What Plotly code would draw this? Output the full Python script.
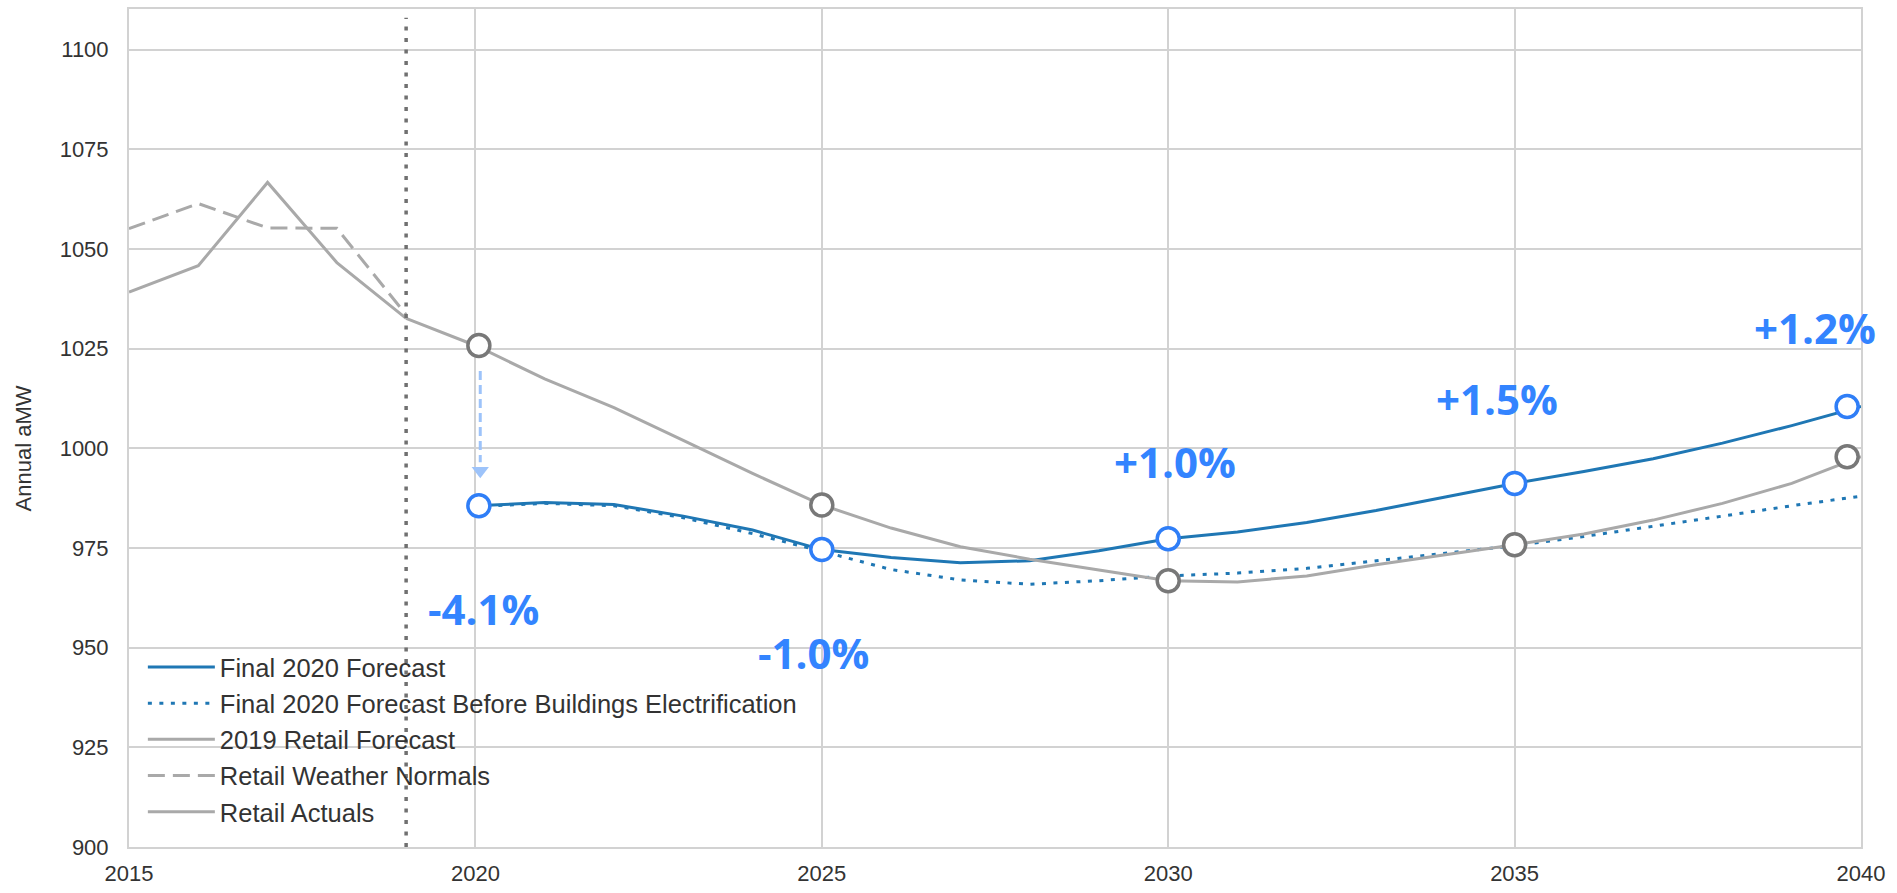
import plotly.graph_objects as go

# ---------------- data ----------------
actual_years = [2015, 2016, 2017, 2018, 2019]
retail_actuals = [1039.2, 1045.8, 1066.7, 1046.6, 1032.6]
weather_normals = [1055.1, 1061.4, 1055.3, 1055.2, 1033.5]

forecast2019_years = list(range(2019, 2041))
retail_forecast_2019 = [1032.6, 1025.8, 1017.4, 1010.2, 1002.0, 993.7, 985.8,
                        980.0, 975.3, 972.2, 969.5, 966.8, 966.5, 968.0, 970.8,
                        973.3, 975.8, 978.5, 982.0, 986.2, 991.2, 997.9]

forecast2020_years = list(range(2020, 2041))
final_2020 = [985.6, 986.4, 985.9, 983.0, 979.5, 974.6, 972.6, 971.3, 971.8,
              974.3, 977.3, 979.0, 981.4, 984.4, 987.8, 991.2, 994.2, 997.4,
              1001.3, 1005.7, 1010.5]
final_2020_before_elec = [985.4, 986.2, 985.6, 982.6, 978.6, 974.2, 969.6,
                          967.0, 965.9, 966.8, 968.0, 968.7, 969.9, 971.8,
                          973.6, 975.6, 977.9, 980.4, 983.0, 985.6, 988.0]

highlight_years = [2020, 2025, 2030, 2035, 2040]
highlight_marker_x = [2020.05, 2025, 2030, 2035, 2039.8]
change_labels = ["-4.1%", "-1.0%", "+1.0%", "+1.5%", "+1.2%"]
label_x = [2020.12, 2024.88, 2030.1, 2034.75, 2039.33]
label_y = [959.9, 948.7, 996.7, 1012.6, 1030.3]

history_end_year = 2019
arrow_x = 2020.07
arrow_from = 1019.4
arrow_to = 996.5
arrow_head = 994.4

y_ticks = [900, 925, 950, 975, 1000, 1025, 1050, 1075, 1100]
x_ticks = [2015, 2020, 2025, 2030, 2035, 2040]

# ---------------- styles ----------------
BLUE_LINE = "#1f77b4"
GRAY_LINE = "#a9a9a9"
MARK_BLUE = "#2f7ef7"
MARK_GRAY = "#787878"
TEXT_BLUE = "#3384ff"
GRID = "#d2d2d2"
FONT = "Arial, Liberation Sans, sans-serif"

fig = go.Figure()

fig.add_trace(go.Scatter(x=forecast2020_years, y=final_2020, mode="lines",
                         name="Final 2020 Forecast",
                         line=dict(color=BLUE_LINE, width=3)))
fig.add_trace(go.Scatter(x=forecast2020_years, y=final_2020_before_elec, mode="lines",
                         name="Final 2020 Forecast Before Buildings Electrification",
                         line=dict(color=BLUE_LINE, width=3, dash="4px,7.5px")))
fig.add_trace(go.Scatter(x=forecast2019_years, y=retail_forecast_2019, mode="lines",
                         name="2019 Retail Forecast",
                         line=dict(color=GRAY_LINE, width=3)))
fig.add_trace(go.Scatter(x=actual_years, y=weather_normals, mode="lines",
                         name="Retail Weather Normals",
                         line=dict(color=GRAY_LINE, width=3, dash="17px,8px")))
fig.add_trace(go.Scatter(x=actual_years, y=retail_actuals, mode="lines",
                         name="Retail Actuals",
                         line=dict(color=GRAY_LINE, width=3)))

# arrow (dashed shaft + head)
fig.add_trace(go.Scatter(x=[arrow_x, arrow_x], y=[arrow_from, arrow_to], mode="lines",
                         line=dict(color="#9dc3fa", width=3, dash="9px,5px"),
                         showlegend=False, hoverinfo="skip"))
fig.add_trace(go.Scatter(x=[arrow_x], y=[arrow_head], mode="markers",
                         marker=dict(symbol="triangle-down", size=15, color="#9dc3fa"),
                         showlegend=False, hoverinfo="skip"))

# highlight circles
gray_vals = [retail_forecast_2019[forecast2019_years.index(y)] for y in highlight_years]
blue_vals = [final_2020[forecast2020_years.index(y)] for y in highlight_years]
fig.add_trace(go.Scatter(x=highlight_marker_x, y=gray_vals, mode="markers",
                         marker=dict(size=22, color="white",
                                     line=dict(color=MARK_GRAY, width=3.5)),
                         showlegend=False, cliponaxis=False))
fig.add_trace(go.Scatter(x=highlight_marker_x, y=blue_vals, mode="markers",
                         marker=dict(size=22, color="white",
                                     line=dict(color=MARK_BLUE, width=3.5)),
                         showlegend=False, cliponaxis=False))

# vertical dotted line at end of history
fig.add_shape(type="line", x0=history_end_year, x1=history_end_year, y0=900, y1=1108,
              xref="x", yref="y", layer="above",
              line=dict(color="#707070", width=3.5, dash="4px,7.5px"))

for t, x, y in zip(change_labels, label_x, label_y):
    fig.add_annotation(x=x, y=y, text=t, showarrow=False, xref="x", yref="y",
                       font=dict(family="Open Sans, Arial, sans-serif", size=42,
                                 color=TEXT_BLUE, weight="bold"))

# y axis title (placed like the reference)
fig.add_annotation(text="Annual aMW", xref="paper", yref="paper",
                   x=-0.061, y=0.476, textangle=-90, showarrow=False,
                   xanchor="center", yanchor="middle",
                   font=dict(family=FONT, size=22, color="#333333"))

axis_common = dict(showgrid=True, gridcolor=GRID, gridwidth=1.8,
                   showline=True, linecolor=GRID, linewidth=2, mirror=True,
                   zeroline=False, ticks="outside", tickcolor="rgba(0,0,0,0)",
                   tickfont=dict(family=FONT, size=22, color="#333333"))

fig.update_layout(
    width=1897, height=893,
    margin=dict(l=129, r=36, t=7, b=39, pad=0),
    plot_bgcolor="white", paper_bgcolor="white",
    font=dict(family=FONT, color="#333333"),
    xaxis=dict(range=[2015, 2040], tickvals=x_ticks, ticklen=6, **axis_common),
    yaxis=dict(range=[900, 1110.2], tickvals=y_ticks, ticklen=14, **axis_common),
    legend=dict(x=0.008, y=0.2423, xanchor="left", yanchor="top",
                bgcolor="rgba(0,0,0,0)", borderwidth=0, tracegroupgap=0,
                font=dict(family=FONT, size=25.5, color="#333333"),
                itemwidth=67),
    showlegend=True,
)

fig.write_html("out.html", config={"displayModeBar": False},
               post_script="document.body.style.margin='0';document.body.style.overflow='hidden';")
